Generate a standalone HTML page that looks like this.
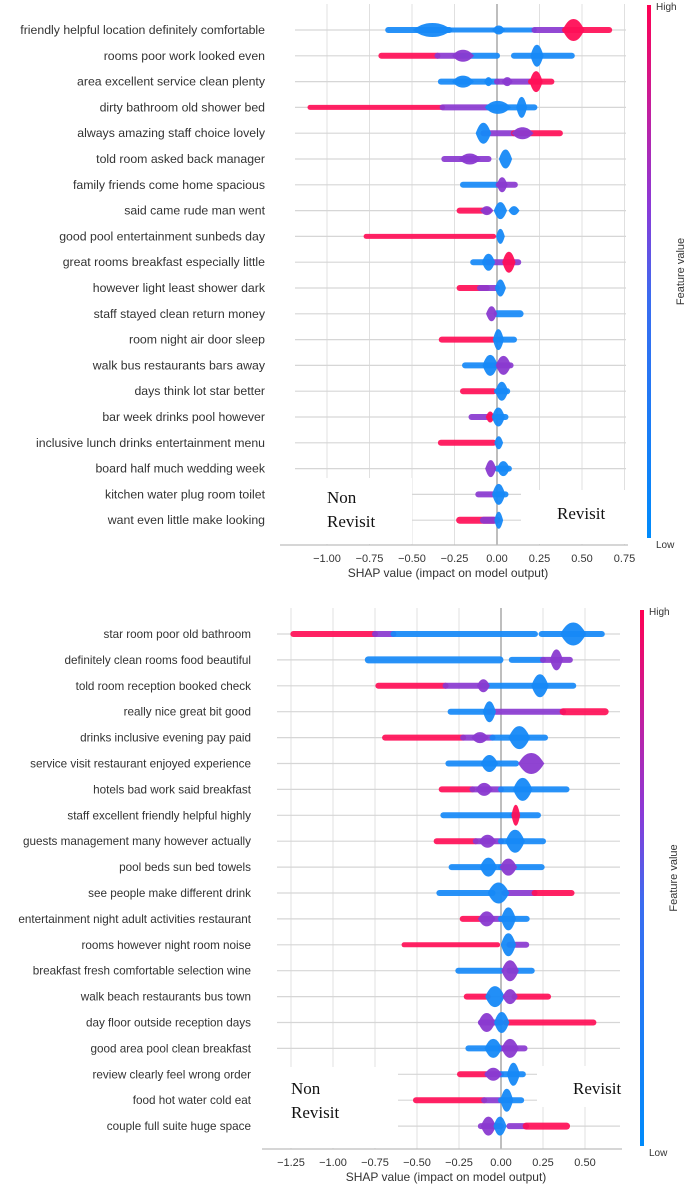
<!DOCTYPE html>
<html><head><meta charset="utf-8"><style>
html,body{margin:0;padding:0;background:#fff;}
svg{display:block;font-family:"Liberation Sans",Arial,sans-serif;}
</style></head><body>
<svg id="s" width="685" height="1186" viewBox="0 0 685 1186" xmlns="http://www.w3.org/2000/svg">
<defs>
<linearGradient id="cb" x1="0" y1="1" x2="0" y2="0">
<stop offset="0" stop-color="#008bfb"/><stop offset="0.45" stop-color="#3a6cf0"/><stop offset="0.62" stop-color="#8a3ad8"/><stop offset="0.8" stop-color="#c21fa0"/><stop offset="1" stop-color="#ff0052"/>
</linearGradient>
</defs>
</svg>
<script>
const topFeatures=["friendly helpful location definitely comfortable","rooms poor work looked even","area excellent service clean plenty","dirty bathroom old shower bed","always amazing staff choice lovely","told room asked back manager","family friends come home spacious","said came rude man went","good pool entertainment sunbeds day","great rooms breakfast especially little","however light least shower dark","staff stayed clean return money","room night air door sleep","walk bus restaurants bars away","days think lot star better","bar week drinks pool however","inclusive lunch drinks entertainment menu","board half much wedding week","kitchen water plug room toilet","want even little make looking"];
const topTicks=[-1.00,-0.75,-0.50,-0.25,0.00,0.25,0.50,0.75];
const topTickLabels=["\u22121.00","\u22120.75","\u22120.50","\u22120.25","0.00","0.25","0.50","0.75"];
const topSegs=[
[[-0.64,-0.28,"B",6],[-0.28,0.22,"B",5],[0.22,0.4,"P",6],[0.4,0.66,"R",6]],
[[-0.68,-0.35,"R",6],[-0.35,-0.2,"P",6],[-0.2,0.0,"B",6],[0.1,0.44,"B",6]],
[[-0.33,0.0,"B",6],[0.0,0.2,"P",6],[0.2,0.32,"R",6]],
[[-1.1,-0.32,"R",5],[-0.32,-0.05,"P",6],[-0.05,0.22,"B",6]],
[[-0.08,0.1,"P",6],[0.1,0.37,"R",6]],
[[-0.31,-0.05,"P",6]],
[[-0.2,0.01,"B",6],[0.01,0.105,"P",6]],
[[-0.22,-0.05,"R",6]],
[[-0.77,-0.02,"R",5]],
[[-0.14,-0.05,"B",6],[-0.05,0.125,"P",6]],
[[-0.22,-0.06,"R",6],[-0.1,0.0,"P",6]],
[[0.0,0.136,"B",7]],
[[-0.325,-0.02,"R",6],[0.0,0.1,"B",6]],
[[-0.188,0.0,"B",6],[0.0,0.08,"P",6]],
[[-0.2,-0.02,"R",6],[0.0,0.06,"B",6]],
[[-0.15,-0.02,"P",6],[0.0,0.05,"B",6]],
[[-0.33,-0.02,"R",6]],
[[0.0,0.07,"B",6]],
[[-0.11,-0.02,"P",6],[0.0,0.05,"B",6]],
[[-0.22,-0.02,"R",7],[-0.08,0.0,"P",7]]];
const topBlobs=[
[[-0.38,0.09,14,"B"],[0.01,0.03,9,"B"],[0.45,0.05,22,"R"]],
[[-0.2,0.05,12,"P"],[0.235,0.03,22,"B"]],
[[-0.2,0.05,12,"B"],[-0.05,0.02,9,"B"],[0.06,0.025,9,"P"],[0.23,0.03,21,"R"]],
[[0.005,0.06,13,"B"],[0.145,0.025,21,"B"]],
[[-0.08,0.035,21,"B"],[0.15,0.05,12,"P"]],
[[-0.16,0.05,11,"P"],[0.05,0.03,19,"B"]],
[[0.03,0.025,15,"P"]],
[[-0.06,0.03,9,"P"],[0.02,0.03,17,"B"],[0.1,0.025,9,"B"]],
[[0.02,0.02,15,"B"]],
[[-0.05,0.03,17,"B"],[0.07,0.03,21,"R"]],
[[0.02,0.025,17,"B"]],
[[-0.032,0.025,15,"P"]],
[[0.008,0.025,21,"B"]],
[[-0.04,0.035,21,"B"],[0.038,0.035,19,"P"]],
[[0.028,0.03,19,"B"]],
[[-0.04,0.02,11,"R"],[0.008,0.03,19,"B"]],
[[0.01,0.02,13,"B"]],
[[-0.037,0.025,17,"P"],[0.037,0.03,15,"B"]],
[[0.01,0.03,21,"B"]],
[[0.01,0.02,17,"B"]]];

const botFeatures=["star room poor old bathroom","definitely clean rooms food beautiful","told room reception booked check","really nice great bit good","drinks inclusive evening pay paid","service visit restaurant enjoyed experience","hotels bad work said breakfast","staff excellent friendly helpful highly","guests management many however actually","pool beds sun bed towels","see people make different drink","entertainment night adult activities restaurant","rooms however night room noise","breakfast fresh comfortable selection wine","walk beach restaurants bus town","day floor outside reception days","good area pool clean breakfast","review clearly feel wrong order","food hot water cold eat","couple full suite huge space"];
const botTicks=[-1.25,-1.00,-0.75,-0.50,-0.25,0.00,0.25,0.50];
const botTickLabels=["\u22121.25","\u22121.00","\u22120.75","\u22120.50","\u22120.25","0.00","0.25","0.50"];
const botSegs=[
[[-1.236,-0.75,"R",6],[-0.75,-0.64,"P",6],[-0.64,0.202,"B",6],[0.242,0.6,"B",6]],
[[-0.79,-0.006,"B",7],[0.064,0.25,"B",6],[0.25,0.41,"P",6]],
[[-0.73,-0.33,"R",6],[-0.33,-0.1,"P",6],[-0.1,0.43,"B",6]],
[[-0.3,-0.07,"B",6],[-0.07,0.37,"P",6],[0.37,0.62,"R",7]],
[[-0.69,-0.225,"R",6],[-0.225,-0.05,"P",6],[-0.05,0.262,"B",6]],
[[-0.313,0.09,"B",6]],
[[-0.353,-0.17,"R",6],[-0.17,0.0,"P",6],[0.0,0.39,"B",6]],
[[-0.343,0.07,"B",6],[0.07,0.22,"B",6]],
[[-0.383,-0.15,"R",6],[-0.15,0.0,"P",6],[0.0,0.25,"B",6]],
[[-0.294,0.0,"B",6],[0.0,0.242,"B",6]],
[[-0.367,-0.05,"B",6],[0.02,0.2,"P",6],[0.2,0.42,"R",6]],
[[-0.228,-0.1,"R",6],[-0.1,0.0,"P",6],[0.0,0.153,"B",6]],
[[-0.577,-0.02,"R",5],[0.05,0.15,"P",6]],
[[-0.254,0.0,"B",6],[0.05,0.183,"B",6]],
[[-0.204,-0.08,"R",6],[0.08,0.28,"R",6]],
[[-0.12,0.0,"P",6],[0.03,0.55,"R",6]],
[[-0.194,0.0,"B",6],[0.0,0.14,"P",6]],
[[-0.244,-0.08,"R",6],[-0.08,0.0,"P",6],[0.0,0.13,"B",6]],
[[-0.506,-0.1,"R",6],[-0.1,0.0,"P",6],[0.0,0.12,"B",6]],
[[-0.12,0.0,"P",6],[0.05,0.15,"P",6],[0.15,0.39,"R",7]]];
const botBlobs=[
[[0.43,0.06,23,"B"]],
[[0.33,0.03,21,"P"]],
[[-0.105,0.03,13,"P"],[0.232,0.04,23,"B"]],
[[-0.069,0.03,21,"B"]],
[[-0.125,0.04,11,"P"],[0.109,0.05,23,"B"]],
[[-0.069,0.04,17,"B"],[0.18,0.06,21,"P"]],
[[-0.1,0.04,13,"P"],[0.129,0.045,23,"B"]],
[[0.088,0.02,21,"R"]],
[[-0.08,0.04,13,"P"],[0.084,0.045,23,"B"]],
[[-0.075,0.04,19,"B"],[0.044,0.04,17,"P"]],
[[-0.015,0.05,21,"B"]],
[[-0.085,0.04,15,"P"],[0.044,0.035,23,"B"]],
[[0.044,0.035,23,"B"]],
[[0.054,0.04,21,"P"]],
[[-0.036,0.045,21,"B"],[0.054,0.035,15,"P"]],
[[-0.085,0.04,19,"P"],[0.004,0.035,21,"B"]],
[[-0.046,0.04,19,"B"],[0.054,0.04,19,"P"]],
[[-0.046,0.04,13,"P"],[0.074,0.03,23,"B"]],
[[0.034,0.03,23,"B"]],
[[-0.075,0.035,19,"P"],[-0.006,0.03,19,"B"]]];

const COL={B:"#1689f7",P:"#8a3ad0",R:"#ff0f57"};
const NS="http://www.w3.org/2000/svg";
const svg=document.getElementById("s");
function mk(tag,attrs,parent){const e=document.createElementNS(NS,tag);for(const k in attrs)e.setAttribute(k,attrs[k]);(parent||svg).appendChild(e);return e;}

function chart(cfg){
  const g=mk("g",{});
  
  
  const x=v=>cfg.x0+v*cfg.k;
  const y=i=>cfg.y0+i*cfg.dy;
  cfg.ticks.forEach((t,i)=>{
    const l=mk("line",{x1:x(t),x2:x(t),y1:cfg.gTop,y2:cfg.axisY,stroke:t===0?"#a8a8a8":"#e0e0e0","stroke-width":t===0?1.5:1},g);
    
    
  });
  cfg.features.forEach((f,i)=>{
    const l=mk("line",{x1:cfg.rowL,x2:cfg.rowR,y1:y(i),y2:y(i),stroke:"#d6d6d6","stroke-width":1.2},g);
    
    
    const t=mk("text",{x:cfg.labelX,y:y(i)+4,"text-anchor":"end","font-size":cfg.fs,fill:"#333"},g);
    t.textContent=f;
    
    
  });
  cfg.segs.forEach((row,i)=>{
    row.forEach(s=>{
      const th=s[3];
      const r=mk("rect",{x:x(s[0])-th/2,y:y(i)-th/2,width:Math.max(1,x(s[1])-x(s[0])+th),height:th,rx:th/2,fill:COL[s[2]],opacity:0.92},g);
      
      
    });
  });
  cfg.blobs.forEach((row,i)=>{
    row.forEach(b=>{
      const cx=x(b[0]),rx=b[1]*cfg.k*1.3,h=b[2]/2,cy=y(i);
      const p=mk("path",{d:`M${cx-rx},${cy} C${cx-rx*0.7},${cy-h*0.55} ${cx-rx*0.45},${cy-h} ${cx},${cy-h} C${cx+rx*0.45},${cy-h} ${cx+rx*0.7},${cy-h*0.55} ${cx+rx},${cy} C${cx+rx*0.7},${cy+h*0.55} ${cx+rx*0.45},${cy+h} ${cx},${cy+h} C${cx-rx*0.45},${cy+h} ${cx-rx*0.7},${cy+h*0.55} ${cx-rx},${cy} Z`,fill:COL[b[3]],opacity:0.95},g);
      
      
    });
  });
  cfg.boxes.forEach(bx=>{
    const r=mk("rect",{x:bx[0],y:bx[1],width:bx[2],height:bx[3],fill:"#fff"},g);
    
    
  });
  const ax=mk("line",{x1:cfg.rowL-15,x2:cfg.rowR+2,y1:cfg.axisY,y2:cfg.axisY,stroke:"#bdbdbd","stroke-width":1.2},g);
  
  
  cfg.ticks.forEach((t,i)=>{
    const tl=mk("text",{x:x(t),y:cfg.axisY+17,"text-anchor":"middle","font-size":11,fill:"#333"},g);
    tl.textContent=cfg.tickLabels[i];
    
    
  });
  const at=mk("text",{x:cfg.titleX,y:cfg.axisY+32,"text-anchor":"middle","font-size":12,fill:"#333"},g);
  at.textContent="SHAP value (impact on model output)";
  
  
  const cb=mk("rect",{x:cfg.cbX,y:cfg.cbTop,width:4,height:cfg.cbBot-cfg.cbTop,fill:"url(#cb)"},g);
  
  
  const hi=mk("text",{x:cfg.cbX+9,y:cfg.cbTop+5,"font-size":10,fill:"#333"},g);
  hi.textContent="High";
  
  
  const lo=mk("text",{x:cfg.cbX+9,y:cfg.cbBot+10,"font-size":10,fill:"#333"},g);
  lo.textContent="Low";
  
  
  const fv=mk("text",{x:0,y:0,"font-size":11,fill:"#333","text-anchor":"middle",transform:`translate(${cfg.cbX+37},${(cfg.cbTop+cfg.cbBot)/2}) rotate(-90)`},g);
  fv.textContent="Feature value";
  
  
  cfg.notes.forEach(n=>{
    const t=mk("text",{x:n[0],y:n[1],"font-size":17,fill:"#111","font-family":"'Liberation Serif',serif"},g);
    t.textContent=n[2];
    
    
  });
}

chart({name:"top-shap-chart",features:topFeatures,ticks:topTicks,tickLabels:topTickLabels,segs:topSegs,blobs:topBlobs,
  x0:497,k:170,y0:30,dy:25.8,gTop:4,axisY:545,rowL:295,rowR:626,labelX:265,fs:12.3,titleX:448,
  cbX:647,cbTop:5,cbBot:538,
  boxes:[[286,478,126,66],[521,490,107,54]],
  notes:[[327,503,"Non","non-revisit-label"],[327,527,"Revisit","non-revisit-label"],[557,519,"Revisit","revisit-label"]]});

chart({name:"bottom-shap-chart",features:botFeatures,ticks:botTicks,tickLabels:botTickLabels,segs:botSegs,blobs:botBlobs,
  x0:501,k:168,y0:634,dy:25.9,gTop:608,axisY:1149,rowL:277,rowR:620,labelX:251,fs:11.7,titleX:446,
  cbX:640,cbTop:610,cbBot:1146,
  boxes:[[276,1067,122,81],[537,1066,108,41]],
  notes:[[291,1094,"Non","non-revisit-label"],[291,1118,"Revisit","non-revisit-label"],[573,1094,"Revisit","revisit-label"]]});
</script>
</body></html>
